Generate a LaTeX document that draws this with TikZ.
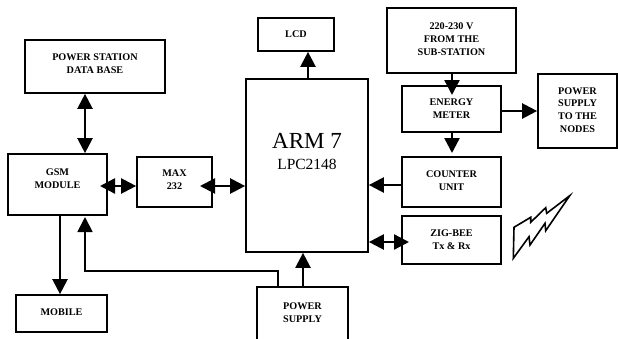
\documentclass[tikz,border=0pt]{standalone}
\usepackage{fontspec}
\setmainfont{Liberation Serif}
\usetikzlibrary{arrows.meta,calc}
\tikzset{
  x=1pt,y=-1pt,
  blk/.style={draw,line width=1.7pt,inner sep=0pt,align=center,font=\bfseries\fontsize{10.2}{12.8}\selectfont},
  conn/.style={line width=2.3pt},
  one/.style={conn,-{Triangle[length=15pt,width=15pt]}},
  two/.style={conn,{Triangle[length=15pt,width=15pt]}-{Triangle[length=15pt,width=15pt]}},
}
\newcommand{\boxat}[6]{% name, x0, y0, x1, y1, text
  \node[blk,minimum width={(#4-#2)*1pt},minimum height={(#5-#3)*1pt}] (#1) at ({(#2+#4)/2},{(#3+#5)/2}) {#6};}
\begin{document}
\begin{tikzpicture}
\useasboundingbox (0,0) rectangle (618,338);
\boxat{db}{25}{40}{165}{93}{POWER STATION\\DATA BASE\\[-6.8pt]}
\boxat{gsm}{8}{154}{107}{215}{GSM\\MODULE\\[-0.8pt]}
\boxat{max}{137}{157}{212}{207}{MAX\\232\\[-8.8pt]}
\node[draw,line width=1.7pt,inner sep=0pt,align=center,minimum width=122pt,minimum height=173pt] (arm) at (307,165.5) {\fontsize{23}{24}\selectfont ARM 7\\[9pt]\fontsize{15.5}{16}\selectfont LPC2148\\[16pt]};
\boxat{lcd}{258}{18}{334}{51}{LCD}
\boxat{src}{387}{8}{516}{73}{220-230 V\\FROM THE\\SUB-STATION\\[-9.8pt]}
\boxat{em}{402}{86}{501}{132}{ENERGY\\METER}
\boxat{nodes}{538}{74}{617}{148}{POWER\\SUPPLY\\TO THE\\NODES\\[-10.8pt]}
\boxat{cnt}{402}{157}{501}{207}{COUNTER\\UNIT\\[-9.8pt]}
\boxat{zig}{402}{216}{501}{264}{ZIG-BEE\\Tx \& Rx}
\boxat{mob}{16}{295}{107}{332}{MOBILE\\[-9.8pt]}
% power supply: open at the bottom
\node[blk,draw=none,minimum width=89pt,minimum height=50pt] (ps) at (302.5,313) {POWER\\SUPPLY};
\draw[line width=1.7pt] (ps.south west) -- (ps.north west) -- (ps.north east) -- (ps.south east);
% connector helpers
\coordinate (tdb) at (85,186);
\coordinate (tmob) at (60,0);
\coordinate (tpsl) at (278,271);
\coordinate (tpsa) at (303,0);
\coordinate (tlcd) at (308,0);
\coordinate (tsrc) at (452,0);
\coordinate (tem) at (0,111);
\coordinate (tcnt) at (0,185);
\coordinate (tzig) at (0,242);
\coordinate (gsmin) at (100,186);
\coordinate (maxout) at (200,186);
\coordinate (gsmret) at (85,217);
\coordinate (emtip) at (452,95);
\coordinate (cnttip) at (452,153);
\coordinate (zigtip) at (409,242);
\draw[two] (db.south -| tdb) -- (gsm.north -| tdb);
\draw[two] (gsmin) -- (max.west |- gsmin);
\draw[two] (maxout) -- (arm.west |- maxout);
\draw[one] (gsm.south -| tmob) -- (mob.north -| tmob);
\draw[conn,line width=1.8pt,-{Triangle[length=15pt,width=15pt]}] (ps.north -| tpsl) -- (tpsl) -- (tpsl -| gsmret) -- (gsmret);
\draw[one] (ps.north -| tpsa) -- (arm.south -| tpsa);
\draw[one] (arm.north -| tlcd) -- (lcd.south -| tlcd);
\draw[one] (src.south -| tsrc) -- (emtip);
\draw[one] (em.south -| tsrc) -- (cnttip);
\draw[one] (em.east |- tem) -- (nodes.west |- tem);
\draw[one] (cnt.west |- tcnt) -- (arm.east |- tcnt);
\draw[two] (arm.east |- tzig) -- (zigtip);
% lightning symbol
\draw[line width=1.6pt,line join=miter] (513.3,258.3) -- (514,227.3) -- (530.7,217.3) -- (530.7,222.3) -- (545.7,207.7) -- (546.7,213.3) -- (569.7,195.7) -- (545.7,230.7) -- (545,223.3) -- (530,245) -- (529,236.7) -- cycle;
\end{tikzpicture}
\end{document}
